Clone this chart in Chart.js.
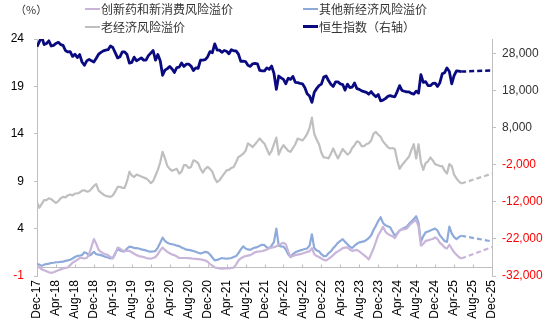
<!DOCTYPE html>
<html>
<head>
<meta charset="utf-8">
<script src="https://cdn.jsdelivr.net/npm/chart.js@4.4.0/dist/chart.umd.min.js"></script>
<style>
  html, body { margin:0; padding:0; background:#fff; }
  #wrap { position:relative; width:550px; height:334px; overflow:hidden; }
  #c { position:absolute; left:0; top:0; }
  .lab { position:absolute; font-family:"Noto Sans CJK SC","Noto Sans",sans-serif; font-size:12px; line-height:16px; color:#333; white-space:nowrap; }
  .sw { position:absolute; width:15px; }
</style>
</head>
<body>
<div id="wrap">
  <canvas id="c" width="550" height="334"></canvas>
  <div class="lab" style="left:15px;top:1px;font-size:11px;">（%）</div>
  <div class="sw" style="left:85px;top:8px;height:2px;background:#c9b5d9"></div>
  <div class="lab" style="left:101px;top:1px">创新药和新消费风险溢价</div>
  <div class="sw" style="left:303px;top:8px;height:2px;background:#8eaadb"></div>
  <div class="lab" style="left:319px;top:1px">其他新经济风险溢价</div>
  <div class="sw" style="left:85px;top:25.5px;height:2px;background:#bfbfbf"></div>
  <div class="lab" style="left:101px;top:18.5px">老经济风险溢价</div>
  <div class="sw" style="left:303px;top:25px;height:3px;background:#0a0a80"></div>
  <div class="lab" style="left:319px;top:18.5px">恒生指数（右轴）</div>
</div>
<script>
// ---- categories / ticks ----
const xLabels = ['Dec-17','Apr-18','Aug-18','Dec-18','Apr-19','Aug-19','Dec-19','Apr-20','Aug-20','Dec-20','Apr-21','Aug-21','Dec-21','Apr-22','Aug-22','Dec-22','Apr-23','Aug-23','Dec-23','Apr-24','Aug-24','Dec-24','Apr-25','Aug-25','Dec-25'];
const xTickMonths = [0,4,8,12,16,20,24,28,32,36,40,44,48,52,56,60,64,68,72,76,80,84,88,92,96];
const leftTicks = [-1,4,9,14,19,24];
const rightTicks = [-32000,-22000,-12000,-2000,8000,18000,28000];
const stepMonths = 0.5; // series sampled every half month from Dec-17
const fcstMonths = [89.5, 96];

// ---- series values ----
const hsi = [
29900,31300,32600,30500,30800,31500,30100,30300,30800,31100,
30500,30300,28900,28500,28600,27300,27900,27000,27800,25800,
24900,26100,26500,26100,25800,26800,27900,28400,28800,29000,
29100,30100,29700,28300,26900,27200,28500,28500,27800,25500,
25700,27100,26100,26500,26900,26300,26300,27500,28200,28900,
26300,27800,26100,22200,23600,24000,24600,23900,22960,24300,
24400,25500,24600,25200,25200,24700,23500,24200,24100,26300,
26300,26400,27200,28600,28300,30700,29000,29000,28400,28900,
28700,28000,29100,28800,28800,27900,25960,26000,25900,24900,
24600,25300,25400,25300,23500,23400,23400,24200,23800,24700,
22700,18400,22000,21500,21100,19900,21400,21100,21900,20300,
20200,20000,19900,18900,17200,16600,14900,17600,18600,19400,
19800,21700,22000,20800,19800,19200,20400,20400,19900,19700,
18200,19800,18900,19000,20100,18600,18400,18000,17800,17600,
17100,17800,17000,16400,17000,15300,15500,15900,16500,16700,
16500,16400,17800,19400,18100,17900,17700,17700,17300,17100,
17900,17400,22400,20300,20500,19400,19400,20000,20100,19200,
20200,22600,22900,24200,23200,19900,22100,23400,23300,23200];
const hsiFcst = [23200, 23500];

const oldEcon = [
6.8,6.2,6.6,7.0,7.0,7.2,7.1,6.9,6.7,6.9,
7.2,7.35,7.3,7.5,7.6,7.5,7.7,7.7,7.8,8.0,
8.05,7.9,7.95,8.2,8.5,8.7,8.0,7.8,7.6,7.45,
7.4,7.35,7.5,7.9,8.4,8.4,8.3,8.3,9.0,10.0,
9.6,9.45,9.7,9.6,9.5,9.4,9.3,9.1,8.8,9.0,
9.6,10.2,11.0,12.1,11.4,10.6,10.3,10.1,10.2,10.3,
9.8,10.0,10.7,10.7,10.4,10.5,11.2,11.1,10.9,10.3,
9.9,10.3,10.5,10.3,10.0,9.3,8.9,9.1,9.45,9.8,
10.15,10.2,10.4,10.5,11.0,11.55,11.7,11.9,12.2,13.0,
12.8,12.6,12.9,13.2,13.5,13.2,12.95,12.4,11.8,12.2,
12.9,13.6,11.8,12.4,12.8,12.5,12.2,12.1,12.5,12.9,
13.5,13.4,13.3,13.6,14.0,14.6,15.7,14.0,13.4,12.9,
12.0,11.5,11.5,11.4,11.9,12.45,11.9,11.4,11.9,12.4,
12.1,11.8,12.0,12.5,12.8,13.2,13.1,12.7,12.7,12.9,
13.0,13.3,14.0,14.2,13.9,13.7,13.2,12.9,12.6,12.45,
12.5,12.4,11.2,10.3,10.7,11.0,11.3,11.6,12.3,12.9,
11.4,12.9,11.0,10.2,10.9,11.1,11.5,11.2,10.8,10.7,
10.6,10.6,10.1,9.8,10.8,10.6,9.7,9.3,9.0,8.75];
const oldEconFcst = [8.75, 9.8];

const otherNew = [
0.26,0.2,0.07,0.2,0.26,0.3,0.37,0.4,0.45,0.45,
0.5,0.52,0.6,0.65,0.71,0.85,1.0,1.12,1.15,1.2,
1.5,1.4,1.15,1.3,1.55,1.3,1.25,1.2,1.1,1.0,
0.95,0.85,0.9,1.4,1.85,1.7,1.6,1.6,1.9,2.1,
2.05,1.95,1.94,1.9,1.8,1.76,1.7,1.6,1.57,1.6,
1.64,2.0,2.5,3.05,2.7,2.5,2.4,2.35,2.3,2.2,
2.15,2.0,1.9,1.78,1.75,1.7,1.64,1.55,1.45,1.38,
1.45,1.55,1.5,1.27,0.95,0.65,0.7,0.8,0.9,0.85,
0.82,0.85,0.9,1.0,1.1,1.4,1.8,2.13,1.9,1.8,
1.76,1.9,2.0,2.05,2.2,2.3,2.25,2.0,1.94,2.2,
2.6,4.0,2.2,2.13,2.1,1.8,1.3,1.0,1.3,1.5,
1.6,1.7,1.76,1.85,1.9,2.2,3.4,1.94,1.7,1.6,
1.3,1.1,1.1,1.4,1.6,1.94,2.2,2.5,2.7,2.88,
2.6,2.35,2.1,1.95,2.2,2.4,2.55,2.6,2.65,2.8,
3.0,3.3,3.85,4.3,4.8,5.2,4.6,4.35,4.25,4.15,
3.7,3.25,3.5,3.8,3.95,4.1,4.2,4.5,4.75,5.0,
5.3,4.6,2.6,3.2,3.6,3.7,3.8,3.9,4.0,3.8,
3.3,3.0,2.7,2.6,4.2,3.5,3.1,2.9,3.1,3.25];
const otherNewFcst = [3.25, 2.65];

const drugConsumer = [
0.07,-0.1,-0.3,-0.4,-0.5,-0.6,-0.67,-0.6,-0.5,-0.4,
-0.3,-0.2,-0.15,-0.1,0.15,0.4,0.55,0.7,0.9,0.9,
0.85,0.9,1.3,2.1,2.9,2.4,1.76,1.55,1.38,1.3,
1.2,1.0,0.85,1.3,2.0,1.9,1.7,1.64,1.64,1.64,
1.5,1.35,1.2,1.1,1.05,1.0,0.9,0.85,0.82,0.9,
1.0,1.3,1.7,2.0,1.75,1.55,1.4,1.25,1.2,1.05,
0.9,0.9,0.9,0.9,0.88,0.85,0.82,0.8,0.78,0.75,
0.7,0.64,0.5,0.26,0.1,-0.1,-0.15,-0.2,-0.22,-0.2,
-0.2,-0.19,-0.15,-0.11,0.2,0.64,0.85,1.0,1.1,1.15,
1.2,1.35,1.5,1.57,1.6,1.64,1.7,1.8,1.94,2.0,
2.05,2.13,2.3,2.4,2.5,2.35,1.6,1.0,1.1,1.2,
1.25,1.3,1.38,1.45,1.55,1.6,1.94,1.3,1.1,1.0,
0.85,0.7,0.64,0.8,1.0,1.2,1.45,1.6,1.75,1.94,
2.0,2.02,1.8,1.65,1.7,1.75,1.6,1.4,1.2,1.0,
0.75,1.3,1.9,2.6,3.3,3.7,4.19,3.7,3.44,3.3,
3.2,3.0,3.4,3.81,3.9,3.95,4.0,4.3,4.56,4.75,
4.93,4.2,2.2,2.4,2.7,2.75,2.85,2.9,3.07,2.9,
2.5,2.3,2.0,1.9,2.3,1.9,1.5,1.25,1.0,0.85];
const drugConsumerFcst = [0.85, 2.05];

// ---- build ----
const pts = arr => arr.map((v, i) => ({ x: i * stepMonths, y: v }));
const fpts = arr => fcstMonths.map((m, i) => ({ x: m, y: arr[i] }));

const C_PURPLE = '#c9b5d9', C_BLUE = '#8eaadb', C_GRAY = '#bfbfbf', C_NAVY = '#0a0a80';
const AXIS = '#bfbfbf';

function line(data, color, axis, width, dashed) {
  return {
    data, yAxisID: axis, borderColor: color, backgroundColor: color,
    borderWidth: width, pointRadius: 0, tension: 0, fill: false,
    borderDash: dashed ? [5, 3] : [], borderJoinStyle: 'round'
  };
}

const zeroAxis = {
  id: 'zeroAxis',
  beforeDatasetsDraw(chart) {
    const { ctx, chartArea, scales } = chart;
    const y0 = Math.round(scales.y.getPixelForValue(0)) + 0.5;
    ctx.save();
    ctx.strokeStyle = AXIS; ctx.lineWidth = 1;
    ctx.beginPath();
    ctx.moveTo(chartArea.left, y0); ctx.lineTo(chartArea.right, y0);
    xTickMonths.forEach(m => {
      const x = Math.round(scales.x.getPixelForValue(m)) + 0.5;
      ctx.moveTo(x, y0); ctx.lineTo(x, y0 - 3);
    });
    ctx.stroke();
    ctx.restore();
  }
};

Chart.defaults.font.family = '"Liberation Sans", Arial, sans-serif';
Chart.defaults.font.size = 12;
Chart.defaults.color = '#000';

new Chart(document.getElementById('c'), {
  type: 'line',
  data: {
    datasets: [
      line(pts(drugConsumer), C_PURPLE, 'y', 2.2, false),
      line(fpts(drugConsumerFcst), C_PURPLE, 'y', 2.2, true),
      line(pts(otherNew), C_BLUE, 'y', 2.2, false),
      line(fpts(otherNewFcst), C_BLUE, 'y', 2.2, true),
      line(pts(oldEcon), C_GRAY, 'y', 2.2, false),
      line(fpts(oldEconFcst), C_GRAY, 'y', 2.2, true),
      line(pts(hsi), C_NAVY, 'y2', 2.8, false),
      line(fpts(hsiFcst), C_NAVY, 'y2', 2.5, true)
    ]
  },
  options: {
    responsive: false,
    animation: false,
    devicePixelRatio: 1,
    layout: { padding: { top: 39, left: 0, right: 0, bottom: 0 } },
    plugins: { legend: { display: false }, tooltip: { enabled: false } },
    scales: {
      x: {
        type: 'linear', min: 0, max: 96,
        grid: { display: false, drawTicks: false },
        border: { display: false },
        afterBuildTicks: s => { s.ticks = xTickMonths.map(v => ({ value: v })); },
        afterFit: s => { s.height = 58; },
        ticks: {
          autoSkip: false, minRotation: 90, maxRotation: 90, padding: 4,
          color: '#000', font: { size: 12 },
          callback: (v, i) => xLabels[i]
        }
      },
      y: {
        position: 'left', min: -1, max: 24,
        afterBuildTicks: s => { s.ticks = leftTicks.map(v => ({ value: v })); },
        afterFit: s => { s.width = 37; },
        grid: { drawOnChartArea: false, drawTicks: true, tickLength: 3, color: AXIS, tickColor: AXIS },
        border: { display: true, color: AXIS },
        ticks: {
          padding: 10, font: { size: 12 },
          color: c => (c.tick && c.tick.value < 0) ? '#ff0000' : '#000'
        }
      },
      y2: {
        position: 'right', min: -32000, max: 32000,
        afterBuildTicks: s => { s.ticks = rightTicks.map(v => ({ value: v })); },
        afterFit: s => { s.width = 58; },
        grid: { drawOnChartArea: false, drawTicks: true, tickLength: 4, color: AXIS, tickColor: AXIS },
        border: { display: true, color: AXIS },
        ticks: {
          padding: 6, font: { size: 12 },
          color: c => (c.tick && c.tick.value < 0) ? '#ff0000' : '#333',
          callback: v => v.toLocaleString('en-US')
        }
      }
    }
  },
  plugins: [zeroAxis]
});
</script>
</body>
</html>
